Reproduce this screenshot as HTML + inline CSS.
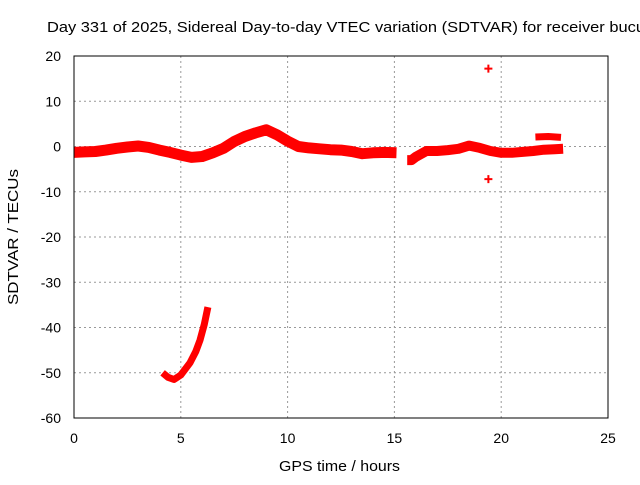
<!DOCTYPE html>
<html><head><meta charset="utf-8"><style>
body{margin:0;background:#fff;}
svg text{font-family:"Liberation Sans",sans-serif;font-size:14px;fill:#000;}
</style></head><body>
<svg width="640" height="480" viewBox="0 0 640 480">
<g id="grid"></g>
<g id="marks"></g>
<rect x="74" y="56" width="534" height="362" fill="none" stroke="#000" stroke-width="1"/>
<g id="ticks"></g>
<text x="47" y="32" style="font-size:15px" textLength="598" lengthAdjust="spacingAndGlyphs">Day 331 of 2025, Sidereal Day-to-day VTEC variation (SDTVAR) for receiver bucu</text>
<text x="279" y="471" style="font-size:15px" textLength="121" lengthAdjust="spacingAndGlyphs">GPS time / hours</text>
<text x="0" y="0" style="font-size:15px" textLength="136" lengthAdjust="spacingAndGlyphs" transform="translate(18 305) rotate(-90)">SDTVAR / TECUs</text>
</svg>
<script>
const xTicks=[0,5,10,15,20,25];
const yTicks=[20,10,0,-10,-20,-30,-40,-50,-60];
const mainHours=[0,0.5,1,1.5,2,2.5,3,3.5,4,4.5,5,5.5,6,6.5,7,7.5,8,8.5,9,9.5,10,10.5,11,11.5,12,12.5,13,13.5,14,14.5,15.1];
const mainVals=[-1.3,-1.2,-1.1,-0.8,-0.4,-0.1,0.1,-0.2,-0.8,-1.3,-1.9,-2.4,-2.2,-1.4,-0.4,1.1,2.2,3,3.7,2.6,1.2,0,-0.3,-0.5,-0.7,-0.8,-1.1,-1.6,-1.4,-1.3,-1.4];
const lateHours=[15.6,15.8,16,16.5,17,17.5,18,18.5,19,19.5,20,20.5,21,21.5,22,22.5,22.9];
const lateVals=[-3,-3,-2.3,-1,-1,-0.8,-0.5,0.2,-0.3,-1,-1.4,-1.4,-1.2,-1,-0.7,-0.6,-0.5];
const upperHours=[21.6,22.2,22.8];
const upperVals=[2.1,2.2,2.0];
const dipHours=[4.15,4.4,4.68,5.0,5.43,5.7,5.9,6.1,6.27];
const dipVals=[-50,-51,-51.5,-50.5,-47.8,-45.3,-42.8,-39.3,-35.5];
const outlierHours=[19.4,19.4];
const outlierVals=[17.2,-7.2];
const NS='http://www.w3.org/2000/svg';
const X=h=>74+h*534/25, Y=v=>56+(20-v)*362/80;
const grid=document.getElementById('grid'),ticks=document.getElementById('ticks'),marks=document.getElementById('marks');
function mk(t,a,p){const e=document.createElementNS(NS,t);for(const k in a)e.setAttribute(k,a[k]);p.appendChild(e);return e;}
xTicks.forEach(t=>{
 if(t>0&&t<25){const l=mk('line',{x1:X(t),x2:X(t),y1:56,y2:418,stroke:'#999','stroke-dasharray':'2,3'},grid);
 
 }
 const tx=mk('text',{x:X(t),y:443,'text-anchor':'middle'},ticks);tx.textContent=t;
 
 
});
yTicks.forEach(t=>{
 if(t>-60&&t<20){const l=mk('line',{x1:74,x2:608,y1:Y(t),y2:Y(t),stroke:'#999','stroke-dasharray':'2,3'},grid);
 
 }
 const tx=mk('text',{x:61,y:Y(t)+5,'text-anchor':'end'},ticks);tx.textContent=t;
 
 
});
function band(hs,vs,w,name){
 const d=hs.map((h,i)=>(i?'L':'M')+X(h).toFixed(1)+','+Y(vs[i]).toFixed(1)).join('');
 const p=mk('path',{d:d,fill:'none',stroke:'#f00','stroke-width':w,'stroke-linejoin':'round','stroke-linecap':'butt'},marks);
 
 
}
band(mainHours,mainVals,11,'sdtvar-band-main');
band(lateHours,lateVals,10,'sdtvar-band-late');
band(upperHours,upperVals,7,'sdtvar-band-upper');
band(dipHours,dipVals,7,'sdtvar-dip-curve');
outlierHours.forEach((h,i)=>{
 const x=X(h),y=Y(outlierVals[i]);
 const p=mk('path',{d:`M${x-4},${y}H${x+4}M${x},${y-4}V${y+4}`,stroke:'#f00','stroke-width':2},marks);
 
 
});
</script>
</body></html>
